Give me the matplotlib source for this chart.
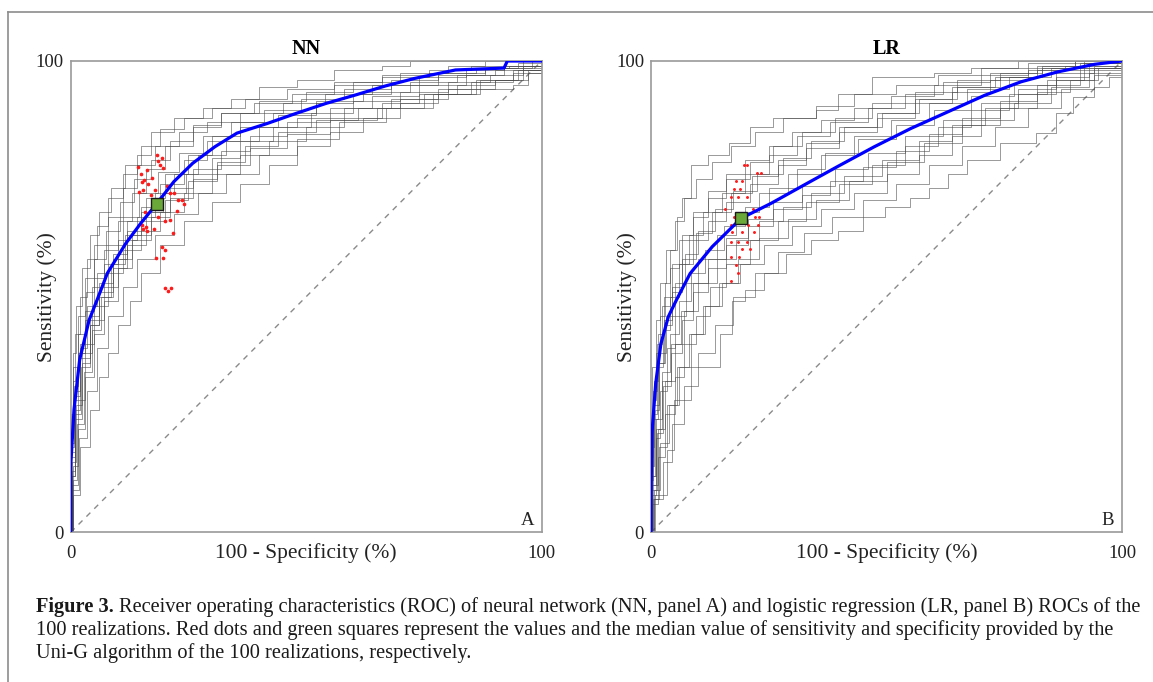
# ROC curves of 100 realizations: neural network (NN) and logistic regression (LR)
# Grey staircases = individual realizations, blue = median ROC,
# red dots = Uni-G operating points, green square = median operating point

import matplotlib.pyplot as plt
from matplotlib.lines import Line2D

plt.rcParams['font.family'] = ['Liberation Serif', 'DejaVu Serif']

W, H = 1153, 682

# ---- NN panel data (values in %) ----
nn_median_x = [0, 0, 0.7, 1.9, 3.9, 5.6, 7.8, 11.7, 14.9, 18, 21.9, 25.9, 30.6, 35.3,
               41.6, 47.9, 54.2, 60.5, 66.8, 73, 81.7, 92, 92.7, 100]
nn_median_y = [0, 14, 26, 36.6, 45, 49.3, 55, 61.3, 65.6, 69.4, 74.4, 78.3, 81.8, 84.7,
               86.7, 88.9, 91, 92.8, 94.7, 96.3, 98.1, 98.5, 100, 100]

nn_runs_x = [
    [0, 0, 0.5, 1, 2, 3.5, 5.5, 8, 11, 14, 17, 22, 28, 34, 40, 48, 56, 66, 72, 100],
    [0, 0, 1, 2, 3, 5, 7, 10, 13, 16, 20, 26, 32, 40, 50, 60, 70, 80, 88, 100],
    [0, 0.3, 1, 2.5, 4, 6, 9, 12, 15, 19, 24, 29, 36, 44, 52, 60, 68, 78, 88, 96, 100],
    [0, 0.2, 1.5, 3, 5, 7, 10, 13, 17, 21, 26, 32, 38, 46, 55, 64, 74, 84, 92, 98, 100],
    [0, 0.5, 2, 4, 6, 8, 10, 12.5, 15, 19, 24, 30, 36, 42, 48, 55, 62, 70, 78, 86, 94, 97, 100],
    [0, 0, 1, 2, 4, 6, 9, 12, 16, 20, 25, 30, 36, 43, 52, 62, 72, 82, 90, 96, 100],
    [0, 0, 0.8, 1.5, 3, 4.5, 7, 10, 14, 18, 22, 27, 33, 40, 48, 58, 68, 78, 86, 94, 100],
    [0, 0.5, 1.5, 3, 5, 8, 11, 15, 19, 24, 30, 36, 42, 50, 58, 66, 74, 82, 90, 96, 100],
    [0, 0, 0.5, 1.5, 3, 5, 8, 11, 14, 18, 23, 29, 36, 45, 54, 64, 74, 84, 92, 100],
    [0, 0.2, 1.2, 2.5, 4.5, 7, 10, 13, 17, 21, 26, 31, 37, 44, 52, 61, 70, 80, 90, 97, 100],
    [0, 0, 0.5, 1.2, 2.5, 4, 6, 8.5, 11.5, 15, 19, 24, 30, 37, 46, 56, 66, 76, 85, 100],
    [0, 0.4, 1.4, 2.8, 4.5, 6.5, 9, 12, 16, 20, 25, 31, 38, 46, 55, 65, 75, 85, 94, 100],
    [0, 0.1, 0.9, 2, 3.5, 5.5, 8, 11, 14.5, 18.5, 23, 28, 34, 41, 49, 58, 68, 78, 88, 95, 100],
    [0, 0.3, 1.8, 3.5, 5.5, 8, 11, 14, 18, 22, 27, 33, 40, 48, 57, 67, 77, 87, 95, 100],
    [0, 0, 0.6, 1.6, 3.2, 5, 7.5, 10.5, 13.5, 17, 21, 26, 32, 39, 47, 56, 66, 76, 86, 93, 100],
    [0, 0.2, 1, 2.2, 4, 6, 8.5, 11.5, 15, 19.5, 24.5, 30, 36, 43, 51, 60, 70, 80, 89, 96, 100],
]
nn_runs_y = [
    [0, 20, 32, 42, 50, 58, 65, 71, 76, 80, 85, 88, 90, 92, 94.5, 96, 98, 99, 100, 100],
    [0, 16, 30, 40, 47, 54, 60, 66, 72, 77, 82, 86, 89, 91.5, 93.5, 95.5, 97.5, 99, 100, 100],
    [0, 12, 24, 36, 44, 51, 58, 64, 69, 74, 79, 83, 86, 88.5, 91, 93, 95, 97, 98.5, 100, 100],
    [0, 10, 22, 33, 42, 49, 56, 62, 68, 73, 77, 81, 84, 87, 90, 92.5, 95, 97, 98.5, 100, 100],
    [0, 8, 18, 26, 33, 38, 44, 49, 55, 61, 66, 70, 74, 78, 82, 85, 88, 91, 93, 94, 95, 98, 100],
    [0, 12, 26, 37, 46, 53, 59, 66, 71, 76, 80, 84, 87, 89, 91.5, 93.5, 95.5, 97, 98, 99, 100],
    [0, 18, 28, 38, 45, 52, 57, 62, 67, 72, 76, 80, 83, 86, 88, 90, 92, 94, 96, 98, 100],
    [0, 14, 28, 40, 48, 55, 60, 64, 68, 72, 76, 80, 83, 86, 88, 91, 93, 95, 96, 98, 100],
    [0, 22, 35, 46, 54, 61, 67, 73, 78, 82, 85, 87, 89, 91, 93, 95, 96.5, 98, 99, 100],
    [0, 15, 27, 38, 45, 52, 58, 63, 67, 71, 75, 78.5, 82, 85, 87.5, 90, 92, 94, 96, 97.5, 100],
    [0, 25, 38, 48, 56, 63, 68, 73, 78, 82, 85.5, 88, 90, 92, 94, 95.5, 97, 98, 99, 100],
    [0, 11, 23, 34, 43, 50, 56, 61, 66, 70.5, 74.5, 78, 81.5, 84.5, 87.5, 90, 93, 95.5, 97.5, 100],
    [0, 17, 29, 39, 48, 55, 61, 67, 72, 76.5, 80.5, 84, 87, 89.5, 92, 94, 96, 97.5, 98.5, 99.5, 100],
    [0, 9, 20, 30, 39, 46, 52, 58, 63, 67.5, 72, 76, 80, 83.5, 87, 90, 93, 96, 98, 100],
    [0, 19, 31, 42, 51, 58, 64, 70, 75, 79, 83, 86.5, 89, 91, 93, 95, 96.5, 97.5, 98.5, 99, 100],
    [0, 13, 25, 35, 44, 50, 57, 63, 68, 72, 76, 79.5, 83, 86, 89, 91.5, 93.5, 95.5, 97, 98.5, 100],
]

nn_dots_x = [19, 19.6, 18.5, 16.1, 15.1, 15.6, 16.5, 17.2, 15, 17.9, 21.1, 20.4, 23.6, 24,
             15.8, 18.6, 20, 15.9, 15.4, 15.1, 16.2, 17.6, 21.1, 19.3, 20, 19.6, 18.2, 20,
             21.2, 20.6, 14.6, 15.4, 22.5, 19.2, 17, 21.8, 14.2, 18.3, 19.4, 22, 22.7]
nn_dots_y = [77.9, 77.2, 78.8, 76.9, 74.4, 74.8, 74, 75.2, 76, 72.6, 72, 73.4, 70.5, 69.6,
             68, 67, 66, 64.8, 64.3, 65.3, 63.9, 64.4, 66.3, 60.6, 59.9, 58.2, 58.2, 51.8,
             51.8, 51.2, 72.1, 72.6, 68.2, 70.9, 71.5, 63.5, 77.5, 80.1, 79.5, 71.9, 70.5]
nn_median_point = (18.3, 69.7)

# ---- LR panel data (values in %) ----
lr_median_x = [0, 0, 0.2, 1, 2.1, 3.7, 5.4, 8.3, 13, 19.1, 25.5, 31.8, 39.6, 47.4, 55.2,
               63, 70.8, 78.6, 86.4, 94.2, 100]
lr_median_y = [0, 6.9, 21, 31.6, 40, 45.8, 49.3, 54.9, 60.6, 66.6, 69.8, 73.3, 77.6, 81.8,
               85.7, 89.2, 92.7, 95.6, 97.7, 99.3, 100]

lr_runs_x = [
    [0, 0, 0.5, 1, 2, 3, 4, 5.5, 6.5, 8.4, 12, 16.5, 21, 26, 35, 39.6, 47, 60, 68, 78, 100],
    [0, 0, 0.5, 1.5, 2.5, 4, 6, 8, 11, 15, 20, 25, 31, 38, 46, 54, 62, 72, 82, 90, 100],
    [0, 0.2, 1, 2, 3.5, 5, 7.5, 10, 14, 18, 23, 29, 36, 43, 51, 59, 67, 76, 85, 93, 100],
    [0, 0.3, 1.5, 3, 5, 7, 9.5, 12.5, 16, 21, 27, 33, 40, 47, 54, 61, 68, 76, 84, 92, 100],
    [0, 0.9, 3.3, 4.8, 8.4, 14.6, 17.3, 20, 24, 28.6, 34, 39.6, 45, 49.7, 55, 59, 63, 67,
     74, 81.7, 86, 89.5, 94, 97.3, 100],
    [0, 0, 0.8, 1.8, 3, 4.5, 6.5, 9, 12, 16, 21, 27, 33, 40, 48, 56, 64, 72, 80, 88, 100],
    [0, 0.5, 1.5, 3, 5, 7, 10, 14, 18, 23, 28, 34, 41, 49, 57, 64, 71, 78, 86, 94, 100],
    [0, 0, 0.4, 1.2, 2.4, 4, 6, 9, 12, 16, 21, 26, 32, 39, 47, 56, 65, 74, 83, 92, 100],
    [0, 0.6, 2, 3.8, 6, 8.5, 11.5, 15, 19, 24, 30, 36, 43, 50, 57, 64, 70, 77, 85, 93, 100],
    [0, 0.2, 1, 2.3, 4, 6, 8.5, 11.5, 15.5, 20, 25, 31, 37, 44, 52, 60, 68, 77, 86, 94, 100],
    [0, 0, 1.2, 2.6, 4.3, 6.5, 9, 12, 16, 20.5, 26, 32, 38, 45, 52, 59, 66, 74, 82, 91, 100],
    [0, 0, 0.6, 1.4, 2.8, 4.5, 6.5, 9, 12, 16, 20, 25, 30, 36, 43, 51, 60, 70, 80, 90, 100],
    [0, 0, 0.3, 1, 2, 3.2, 5, 7, 9.5, 13, 17, 22, 28, 35, 43, 52, 61, 70, 80, 90, 100],
    [0, 0.4, 1.6, 3.4, 5.5, 8, 11, 14.5, 18.5, 23, 29, 35, 42, 50, 58, 66, 74, 82, 89, 95, 100],
    [0, 0.1, 0.7, 1.7, 3.2, 5, 7.2, 10, 13.5, 17.5, 22.5, 28, 34, 41, 49, 57, 65, 74, 83, 92, 100],
    [0, 0.7, 2.5, 4.5, 7, 10, 13.5, 17.5, 22, 27, 32.5, 38.5, 45, 52, 59, 66, 73, 80, 87, 94, 100],
    [0, 0, 0.4, 1.3, 2.7, 4.4, 6.6, 9.5, 13, 17, 21.5, 27, 33, 40, 48, 56, 64, 73, 82, 91, 100],
    [0, 0.2, 1.1, 2.4, 4.2, 6.3, 9, 12.2, 16, 20.5, 26, 32, 39, 46, 54, 62, 70, 78, 86, 93, 100],
]
lr_runs_y = [
    [0, 14, 28, 38, 46, 53, 60, 67, 71, 78, 80, 82.5, 86, 88, 89.6, 93, 96.5, 97.5, 98.5, 100, 100],
    [0, 10, 24, 35, 43, 50, 57, 63, 68, 72, 76, 80, 84, 87, 90, 93, 95.5, 97.5, 99, 100, 100],
    [0, 8, 20, 30, 39, 46, 53, 58, 63, 68, 72, 76, 80, 84, 87.5, 91, 94, 96.5, 98.5, 99.5, 100],
    [0, 6, 16, 25, 33, 40, 46, 52, 57, 62, 66, 70, 74, 78, 82, 86, 89.5, 93, 96, 98.5, 100],
    [0, 8, 17.5, 28, 35, 42, 49, 51.4, 55, 59, 62, 64, 67, 69, 71, 73, 76, 79, 82.5, 84.7,
     89, 92.4, 94.5, 96.7, 100],
    [0, 12, 26, 36, 44, 51, 57, 62, 66, 70, 74, 78, 81.5, 85, 88, 91, 93.5, 96, 98, 99, 100],
    [0, 10, 22, 32, 40, 47, 53, 58, 62, 66, 69, 72, 75.5, 79, 83, 86.5, 90, 93, 96, 98.5, 100],
    [0, 16, 30, 40, 48, 56, 62, 67, 71, 75, 78.5, 82, 85, 88, 91, 93.5, 96, 97.5, 99, 100, 100],
    [0, 9, 19, 27, 35, 42, 48, 53, 57, 61, 65, 68.5, 72, 76, 80, 84, 87.5, 91, 94.5, 97.5, 100],
    [0, 12, 24, 34, 42, 49, 55, 60, 65, 69, 73, 77, 80.5, 83.5, 86.5, 89.5, 92.5, 95, 97.5, 99, 100],
    [0, 9, 21, 31, 38, 45, 51, 56, 61, 65, 68.5, 71.5, 74.5, 77.5, 81, 84.5, 88, 91.5, 95, 98, 100],
    [0, 18, 32, 42, 50, 57, 63, 68, 72.5, 76, 79, 82, 85, 87.5, 90, 92.5, 95, 97, 98.5, 99.5, 100],
    [0, 20, 35, 45, 53, 60, 66, 71, 75, 78.5, 82, 85, 88, 90.5, 93, 95, 97, 98.5, 99.5, 100, 100],
    [0, 7, 18, 27, 35, 42, 48, 53, 58, 62.5, 66.5, 70.5, 74.5, 78.5, 82.5, 86.5, 90, 93.5, 96, 98.5, 100],
    [0, 14, 27, 38, 46, 53, 59, 64, 68.5, 72.5, 76, 79.5, 83, 86, 89, 92, 94.5, 96.5, 98.5, 99.5, 100],
    [0, 7, 15, 23, 31, 38, 44, 50, 55, 59.5, 63.5, 67, 70.5, 74, 78, 82, 86, 90, 94, 97, 100],
    [0, 11, 25, 36, 45, 52, 58, 63.5, 68, 72, 75.5, 79, 82.5, 86, 89, 92, 94.5, 96.5, 98, 99.5, 100],
    [0, 10, 22, 32, 40, 47, 53, 58, 62.5, 66.5, 70, 73.5, 77, 80.5, 84, 87.5, 91, 94, 96.5, 98.5, 100],
]

lr_dots_x = [19.7, 20.4, 22.4, 23.3, 18.1, 19.3, 17.7, 19, 18.5, 16.9, 20.4, 21.6, 17.7,
             22, 23, 16.9, 20.6, 19.3, 21.8, 16.9, 18.5, 20.4, 19.3, 21, 16.9, 18.6, 18.1,
             18.5, 16.9, 15.8, 17.2, 22.8]
lr_dots_y = [77.9, 77.9, 76.2, 76.2, 74.6, 74.6, 72.8, 72.8, 71.1, 71.1, 71.1, 68.6, 66.8,
             66.8, 66.8, 65.1, 65.1, 63.7, 63.7, 61.6, 61.6, 61.6, 60.2, 60.2, 58.5, 58.5,
             56.8, 55.1, 53.3, 68.6, 63.7, 65.1]
lr_median_point = (19.1, 66.6)

caption_lines = [
    "Receiver operating characteristics (ROC) of neural network (NN, panel A) and logistic "
    "regression (LR, panel B) ROCs of the",
    "100 realizations. Red dots and green squares represent the values and the median value "
    "of sensitivity and specificity provided by the",
    "Uni-G algorithm of the 100 realizations, respectively.",
]

fig = plt.figure(figsize=(W / 100, H / 100), dpi=100)


def draw_panel(left_px, title, letter, runs_x, runs_y, med_x, med_y, dots_x, dots_y, med_pt,
               dot_size):
    ax = fig.add_axes([left_px / W, 1 - 532.3 / H, 471 / W, 471.3 / H])
    # chance line
    ax.plot([0, 100], [0, 100], color='#8a8a8a', lw=1.0, dashes=(4, 4), zorder=1)
    for rx, ry in zip(runs_x, runs_y):
        ax.plot(rx, ry, drawstyle='steps-post', color='#4a4a4a', lw=0.6, alpha=0.65, zorder=2)
    ax.scatter(dots_x, dots_y, s=dot_size, color='#ff1a1a', linewidths=0, zorder=3)
    ax.plot(med_x, med_y, color='#0000ff', lw=2.3, zorder=4)
    ax.plot([med_pt[0]], [med_pt[1]], marker='s', ms=8.5, mfc='#6aa83a', mec='#1a1a1a',
            mew=1.0, zorder=5)
    ax.set_xlim(0, 100)
    ax.set_ylim(0, 100)
    ax.set_xticks([0, 100])
    ax.set_yticks([0, 100])
    ax.set_xticklabels(['0', '100'])
    ax.set_yticklabels(['0', '100'])
    ax.tick_params(length=0, labelsize=13.5, colors='#222222')
    ax.tick_params(axis='x', pad=9)
    ax.tick_params(axis='y', pad=5)
    for s in ax.spines.values():
        s.set_color('#9a9a9a')
        s.set_linewidth(1.2)
    ax.set_title(title, fontsize=14.5, fontweight='bold', pad=5)
    ax.text(0.5, -0.045, '100 - Specificity (%)', transform=ax.transAxes,
            ha='center', va='center', fontsize=15.5, color='#222222')
    ax.text(-0.05, 0.5, 'Sensitivity (%)', transform=ax.transAxes, rotation=90,
            ha='center', va='center', fontsize=15.5, color='#222222')
    ax.text(1 - 14 / 471, 12 / 471, letter, transform=ax.transAxes,
            ha='center', va='center', fontsize=13.5, color='#222222')
    return ax


draw_panel(70.7, 'NN', 'A', nn_runs_x, nn_runs_y, nn_median_x, nn_median_y,
           nn_dots_x, nn_dots_y, nn_median_point, 7)
draw_panel(651, 'LR', 'B', lr_runs_x, lr_runs_y, lr_median_x, lr_median_y,
           lr_dots_x, lr_dots_y, lr_median_point, 4.5)

# outer frame (only top and left edges fall inside the picture)
fig.add_artist(Line2D([8 / W, 8 / W], [0, 1 - 12 / H], transform=fig.transFigure,
                      color='#8c8c8c', lw=1.2))
fig.add_artist(Line2D([8 / W, 1], [1 - 12 / H, 1 - 12 / H], transform=fig.transFigure,
                      color='#8c8c8c', lw=1.2))

# caption
cap_size = 14.7
line_y = [607, 630, 653]
renderer = fig.canvas.get_renderer()
t = fig.text(36 / W, 1 - line_y[0] / H, 'Figure 3.', fontsize=cap_size, fontweight='bold',
             va='center', color='#1a1a1a')
bb = t.get_window_extent(renderer)
fig.text(bb.x1 / W + 5 / W, 1 - line_y[0] / H, caption_lines[0], fontsize=cap_size,
         va='center', color='#1a1a1a')
for txt, yy in zip(caption_lines[1:], line_y[1:]):
    fig.text(36 / W, 1 - yy / H, txt, fontsize=cap_size, va='center', color='#1a1a1a')

fig.savefig('out.png', dpi=100)
